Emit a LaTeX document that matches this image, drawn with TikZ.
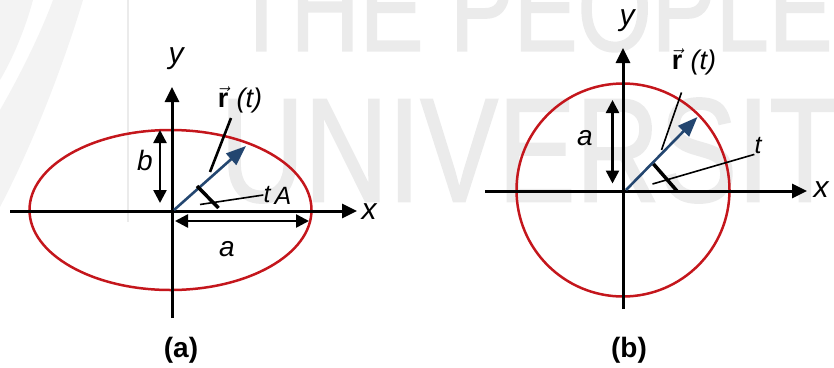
\documentclass[tikz,border=0pt]{standalone}
\usepackage{fontspec}
\setmainfont{Liberation Sans}
\newfontfamily\wmfont[FakeBold=1.5]{Liberation Sans}
\usetikzlibrary{arrows.meta}
\definecolor{ered}{RGB}{196,22,28}
\definecolor{vblue}{RGB}{35,70,112}
\definecolor{wmark}{RGB}{235,235,235}
\definecolor{wmarc}{RGB}{243,243,243}
\begin{document}
\begin{tikzpicture}[x=1pt,y=-1pt,
  axis/.style={line width=3pt, -{Triangle[length=15pt,width=14pt]}},
  dim/.style={line width=2.5pt, {Triangle[length=13pt,width=13pt]}-{Triangle[length=13pt,width=13pt]}},
  vecarrow/.style={vblue, line width=2.6pt, -{Triangle[length=20pt,width=15pt]}},
  curve/.style={ered, line width=2.5pt},
  lbl/.style={font=\fontsize{28}{28}\selectfont\itshape, inner sep=0pt},
  axlbl/.style={font=\fontsize{30}{30}\selectfont\itshape, inner sep=0pt},
  smalllbl/.style={font=\fontsize{25}{25}\selectfont\itshape, inner sep=0pt},
  rlbl/.style={font=\fontsize{27}{27}\selectfont, inner sep=0pt},
  caption/.style={font=\fontsize{28}{28}\selectfont\bfseries, inner sep=0pt},
  leader/.style={line width=1.6pt},
  thickleader/.style={line width=2.6pt},
  anglemark/.style={line width=3.5pt},
  wmtext/.style={anchor=south west, inner sep=0pt, text=wmark, font=\wmfont},
]
\useasboundingbox (0,0) rectangle (834,367);
% ---------- faint watermark ----------
\begin{scope}
  \clip (0,0) rectangle (834,367);
  \fill[wmarc] (0,0) -- (33,0) .. controls (25,30) and (12,60) .. (0,80) -- cycle;
  \fill[wmarc] (53,0) -- (83,0) .. controls (62,70) and (30,150) .. (0,207) -- (0,110) .. controls (20,75) and (40,35) .. (53,0) -- cycle;
  \draw[wmark, line width=2pt] (128,0) -- (128,222);
  \node[wmtext] (wm1) at (232,52) {\resizebox{600pt}{85pt}{THE PEOPLE}};
  \node[wmtext] (wm2) at (220,203) {\resizebox{620pt}{103pt}{UNIVERSIT}};
\end{scope}
% ---------- panel (a) ----------
\draw[curve] (170.5,210) ellipse [x radius=141, y radius=80];
\coordinate (axL) at (10,211);
\coordinate (axR) at (357,211);
\coordinate (ayB) at (172,318);
\coordinate (ayT) at (172,87);
\draw[axis] (axL) -- (axR);
\draw[axis] (ayB) -- (ayT);
\node[axlbl] (xa) at (369,212) {x};
\node[axlbl] (ya) at (176,59) {y};
\coordinate (bT) at (160,130);
\coordinate (bB) at (160,203);
\draw[dim] (bT) -- (bB);
\node[lbl] (bl) at (145,160) {b};
\coordinate (aL) at (175,221);
\coordinate (aR) at (309,221);
\draw[dim] (aL) -- (aR);
\node[lbl] (al) at (227,249) {a};
\coordinate (va0) at (174,210);
\coordinate (va1) at (246,146);
\draw[vecarrow] (va0) -- (va1);
\node[rlbl] (ra) at (240,100) {$\vec{\textbf{r}}$\hspace{0.3em}\textit{(t)}};
\coordinate (rla0) at (210,172);
\coordinate (rla1) at (231,118);
\draw[thickleader] (rla0) -- (rla1);
\coordinate (ama0) at (197,186);
\coordinate (ama1) at (218.5,208);
\draw[anglemark] (ama0) -- (ama1);
\node[smalllbl] (ta) at (267,195) {t};
\node[smalllbl] (Aa) at (283,196) {A};
\coordinate (tla0) at (200,204.5);
\draw[leader] (tla0) -- (ta.west);
\node[caption] (capa) at (181,350) {(a)};
% ---------- panel (b) ----------
\draw[curve] (623,190) circle (106.5);
\coordinate (bxL) at (485,191);
\coordinate (bxR) at (807,191);
\coordinate (byB) at (623,309);
\coordinate (byT) at (623,48);
\draw[axis] (bxL) -- (bxR);
\draw[axis] (byB) -- (byT);
\node[axlbl] (xb) at (821,190) {x};
\node[axlbl] (yb) at (627,21) {y};
\coordinate (daT) at (612.5,100);
\coordinate (daB) at (612.5,183.5);
\draw[dim] (daT) -- (daB);
\node[lbl] (alb) at (585,138) {a};
\coordinate (vb0) at (626,190);
\coordinate (vb1) at (697.5,117);
\draw[vecarrow] (vb0) -- (vb1);
\node[rlbl] (rb) at (694,62) {$\vec{\textbf{r}}$\hspace{0.3em}\textit{(t)}};
\coordinate (rlb0) at (661.5,150);
\coordinate (rlb1) at (681.5,92.5);
\draw[leader] (rlb0) -- (rlb1);
\coordinate (amb0) at (653.5,164);
\coordinate (amb1) at (677,191);
\draw[anglemark] (amb0) -- (amb1);
\node[smalllbl] (tb) at (758,146) {t};
\coordinate (tlb0) at (652.5,184);
\draw[leader] (tlb0) -- (tb.south west);
\node[caption] (capb) at (629,350) {(b)};
\end{tikzpicture}
\end{document}
